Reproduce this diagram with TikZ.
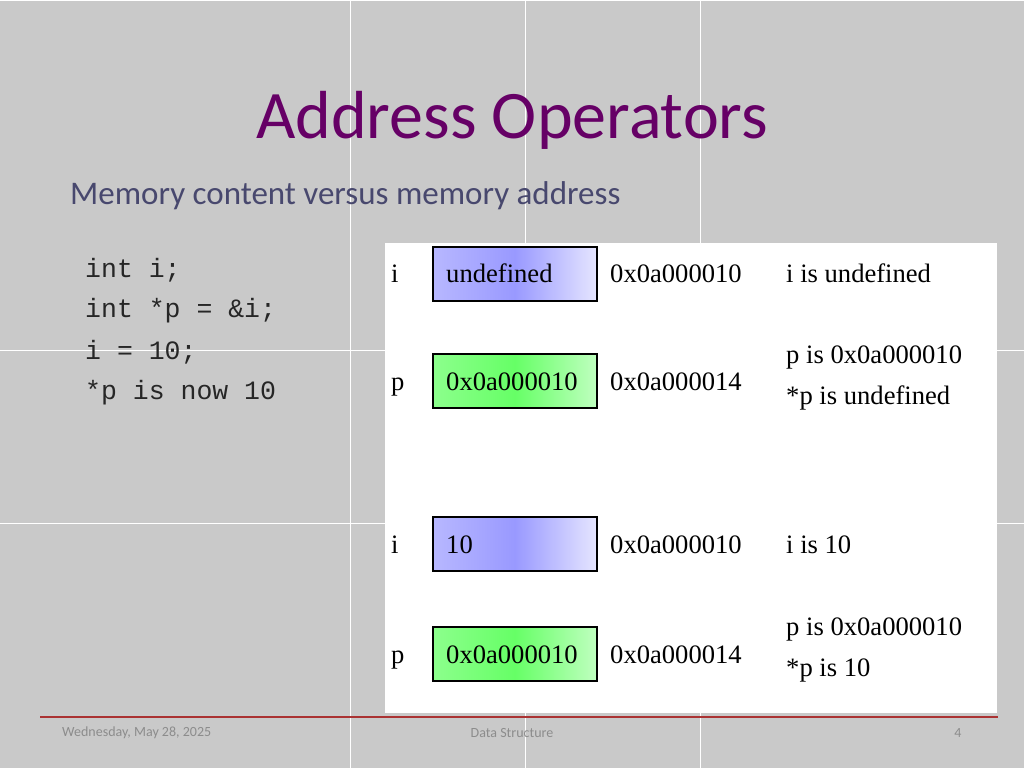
\documentclass[tikz,border=0pt]{standalone}
\usepackage{fontspec}
\setmainfont{Carlito}
\newfontfamily\tnr{Liberation Serif}
\newfontfamily\cour{Liberation Mono}
\definecolor{titlec}{RGB}{102,0,102}
\definecolor{subc}{RGB}{72,72,110}
\definecolor{redline}{RGB}{170,50,50}
\begin{document}
\begin{tikzpicture}[x=1pt,y=-1pt,
  grid/.style={white,line width=1pt},
  cell/.style={draw=black,line width=1.8pt,minimum width=164pt,minimum height=54pt,anchor=north west,inner sep=0pt},
  bluebox/.style={cell,left color=blue!28,right color=blue!10,middle color=blue!40},
  greenbox/.style={cell,left color=green!45!white,right color=green!25!white,middle color=green!60!white},
  pt/.style={font=\tnr\fontsize{26.6}{30}\selectfont,anchor=west,inner sep=0pt,text height=19pt,text depth=7pt},
  code/.style={font=\cour\fontsize{26.5}{30}\selectfont,anchor=west,inner sep=0pt,text=black!85},
  foot/.style={font=\fontsize{14}{16}\selectfont,text=black!45,inner sep=0pt}]
\useasboundingbox (0,0) rectangle (1024,768);
\fill[black!21] (0,0) rectangle (1024,768);
\foreach \x in {350,525,700} \draw[grid] (\x,0) -- (\x,768);
\foreach \y in {1,350,523} \draw[grid] (0,\y) -- (1024,\y);
\node[font=\fontsize{68}{70}\selectfont,text=titlec] (title) at (512,120) {Address Operators};
\node[font=\fontsize{33}{36}\selectfont,text=subc,anchor=west,inner sep=0pt] (sub) at (70,196) {Memory content versus memory address};
\node[code] (c1) at (85,270) {int i;};
\node[code] (c2) at (85,311) {int *p = \&i;};
\node[code] (c3) at (85,352) {i = 10;};
\node[code] (c4) at (85,393) {*p is now 10};
\fill[white] (385,243) rectangle (997,713);
\node[bluebox] (b1) at (432,246) {};
\node[greenbox] (b2) at (432,353) {};
\node[bluebox] (b3) at (432,516) {};
\node[greenbox] (b4) at (432,626) {};
\node[pt] at (446,276) {undefined};
\node[pt] at (446,384) {0x0a000010};
\node[pt] at (446,547) {10};
\node[pt] at (446,657) {0x0a000010};
\node[pt] (l1) at (391,276) {i};
\node[pt] (l2) at (391,384) {p};
\node[pt] (l3) at (391,547) {i};
\node[pt] (l4) at (391,657) {p};
\node[pt] (a1) at (610,276) {0x0a000010};
\node[pt] (a2) at (610,384) {0x0a000014};
\node[pt] (a3) at (610,547) {0x0a000010};
\node[pt] (a4) at (610,657) {0x0a000014};
\node[pt] (d1) at (786,276) {i is undefined};
\node[pt] (d2) at (786,357) {p is 0x0a000010};
\node[pt] (d2b) at (786,398) {*p is undefined};
\node[pt] (d3) at (786,547) {i is 10};
\node[pt] (d4) at (786,629) {p is 0x0a000010};
\node[pt] (d4b) at (786,670) {*p is 10};
\draw[line width=2.5pt,redline] (40,717) -- (998,717);
\node[foot,anchor=west] (f1) at (62,733) {Wednesday, May 28, 2025};
\node[foot] (f2) at (512,733) {Data Structure};
\node[foot] (f3) at (958,733) {4};
\end{tikzpicture}
\end{document}
